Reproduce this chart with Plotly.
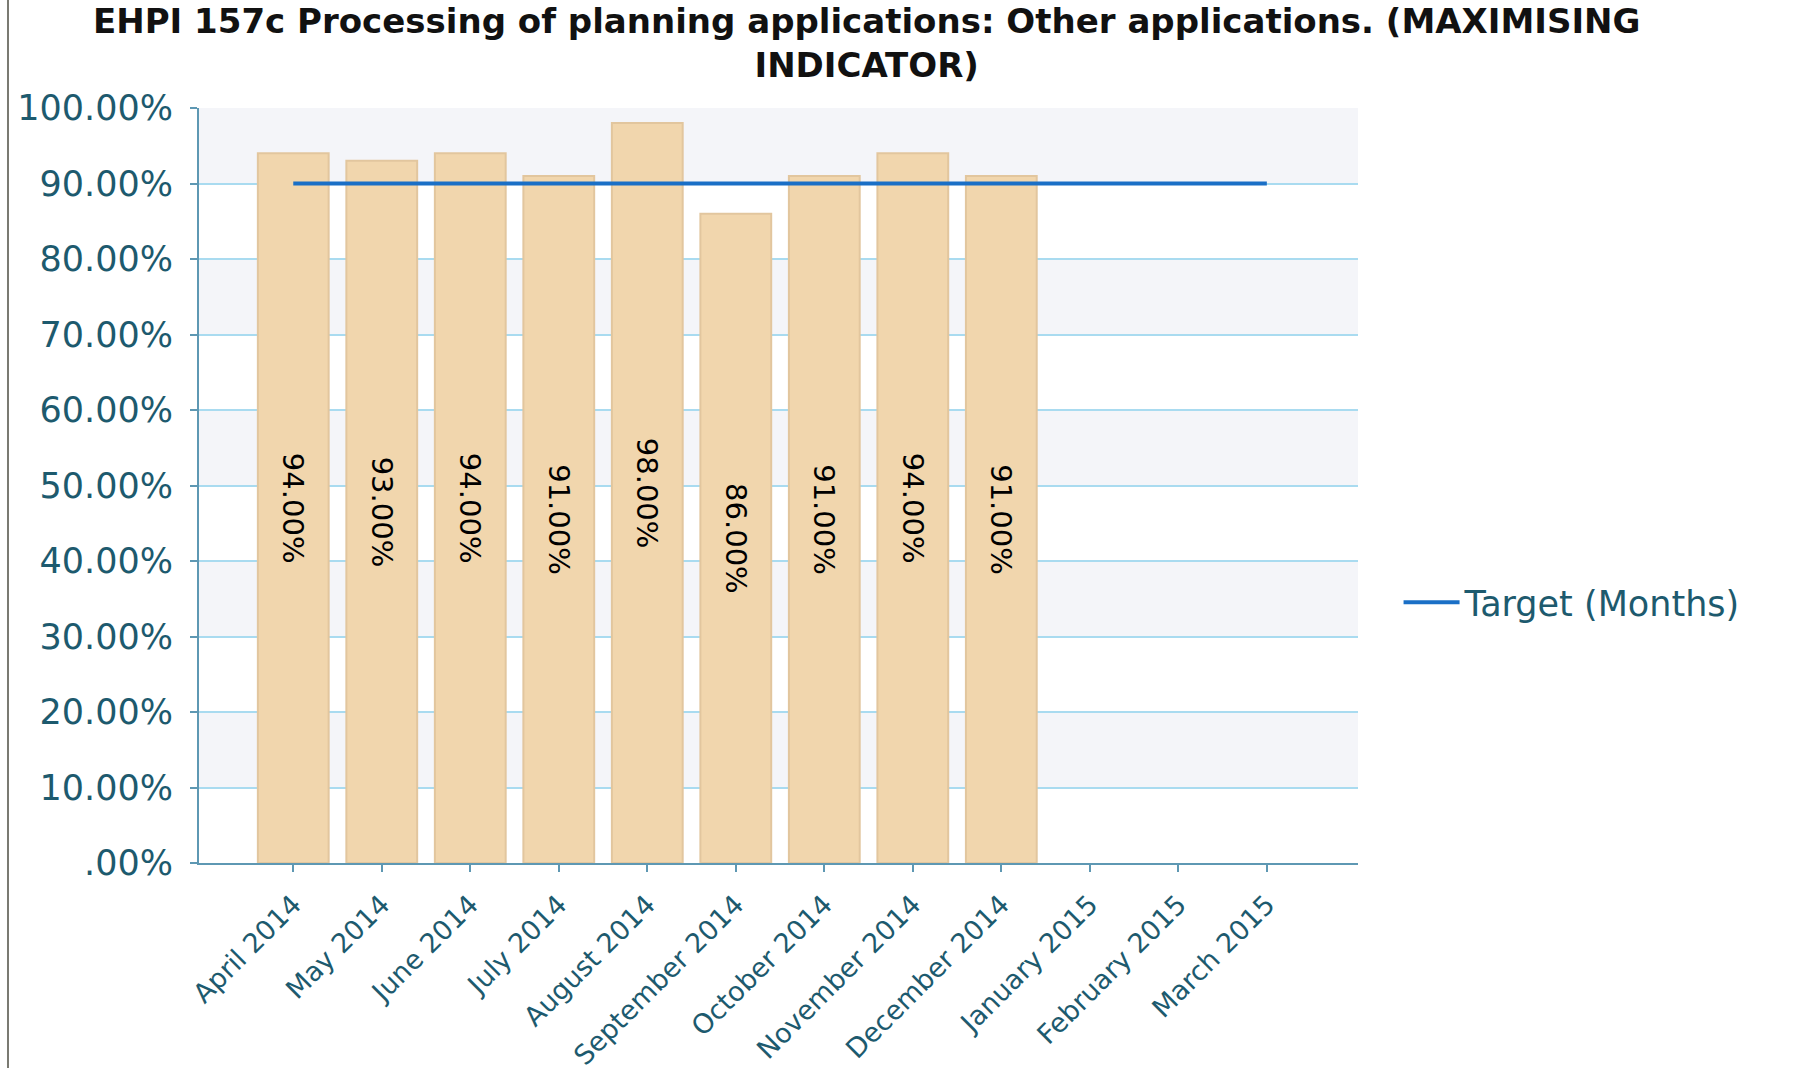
import plotly.graph_objects as go

# Monthly performance for indicator EHPI 157c
months = ["April 2014", "May 2014", "June 2014", "July 2014", "August 2014",
          "September 2014", "October 2014", "November 2014", "December 2014",
          "January 2015", "February 2015", "March 2015"]
actual = [94, 93, 94, 91, 98, 86, 91, 94, 91, None, None, None]
target = [90] * 12

y_ticks = [0, 10, 20, 30, 40, 50, 60, 70, 80, 90, 100]
y_ticktext = [".00%", "10.00%", "20.00%", "30.00%", "40.00%", "50.00%",
              "60.00%", "70.00%", "80.00%", "90.00%", "100.00%"]

TICK_COLOR = "#1d5a6e"
AXIS_COLOR = "#5e98b3"
GRID_COLOR = "#a9dbf0"

fig = go.Figure()

fig.add_trace(go.Bar(
    x=months,
    y=actual,
    width=0.8,
    marker=dict(color="#f1d6ad", line=dict(color="#e2c69e", width=2)),
    text=[f"{v:.2f}%" if v is not None else "" for v in actual],
    textposition="inside",
    insidetextanchor="middle",
    textangle=90,
    textfont=dict(family="DejaVu Sans", size=29, color="#000000"),
    showlegend=False,
    hoverinfo="skip",
))

fig.add_trace(go.Scatter(
    x=months,
    y=target,
    mode="lines",
    name="Target (Months)",
    line=dict(color="#1a6fc6", width=4),
))

# alternating shaded bands between gridlines
shapes = []
for lo, hi in zip(y_ticks[1::2], y_ticks[2::2]):
    shapes.append(dict(type="rect", xref="paper", yref="y", x0=0, x1=1,
                       y0=lo, y1=hi, fillcolor="#f4f5f9", line=dict(width=0),
                       layer="below"))
# thin frame line on the left edge of the page
shapes.append(dict(type="line", xref="paper", yref="paper",
                   x0=-0.1648, x1=-0.1648, y0=-0.3, y1=1.2,
                   line=dict(color="#7a7a72", width=2)))

fig.update_layout(
    width=1817,
    height=1068,
    margin=dict(l=199, r=459, t=108, b=205, autoexpand=False),
    paper_bgcolor="#ffffff",
    plot_bgcolor="#ffffff",
    shapes=shapes,
    title=dict(
        text="EHPI 157c Processing of planning applications: Other applications. (MAXIMISING<br>INDICATOR)",
        x=0.477, xref="container", xanchor="center",
        y=0.969, yref="container", yanchor="top",
        font=dict(family="DejaVu Sans", size=34, color="#111111", weight="bold"),
    ),
    xaxis=dict(
        type="category",
        range=[-1.065, 12.03],
        tickangle=-45,
        tickfont=dict(family="DejaVu Sans", size=27, color=TICK_COLOR),
        showgrid=False,
        showline=True, linecolor=AXIS_COLOR, linewidth=2,
        ticks="outside", ticklen=7, tickcolor=AXIS_COLOR, tickwidth=2,
        ticklabelstandoff=6,
        automargin=False,
    ),
    yaxis=dict(
        range=[0, 100],
        tickvals=y_ticks,
        ticktext=y_ticktext,
        tickfont=dict(family="DejaVu Sans", size=35, color=TICK_COLOR),
        showgrid=True, gridcolor=GRID_COLOR, gridwidth=2,
        showline=True, linecolor=AXIS_COLOR, linewidth=2,
        ticks="outside", ticklen=7, tickcolor=AXIS_COLOR, tickwidth=2,
        ticklabelstandoff=10,
        zeroline=False,
        automargin=False,
    ),
    legend=dict(
        x=1.035, xanchor="left", y=0.345, yanchor="middle",
        font=dict(family="DejaVu Sans", size=35, color=TICK_COLOR),
        bgcolor="rgba(0,0,0,0)",
        itemwidth=56,
    ),
    bargap=0.2,
)

fig.write_html("out.html")
